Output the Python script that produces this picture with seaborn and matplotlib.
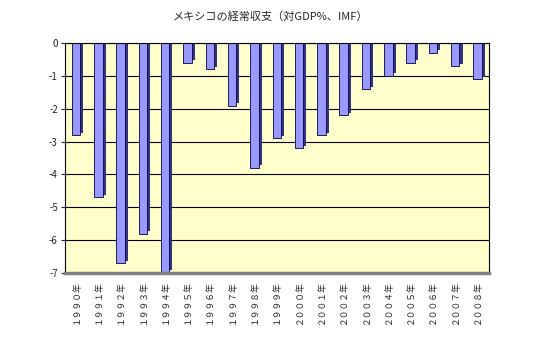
import matplotlib
matplotlib.use("Agg")
import matplotlib.pyplot as plt
import matplotlib.patheffects as pe
import seaborn as sns
import pandas as pd

years = ["１９９０年", "１９９１年", "１９９２年", "１９９３年", "１９９４年", "１９９５年",
         "１９９６年", "１９９７年", "１９９８年", "１９９９年", "２０００年", "２００１年",
         "２００２年", "２００３年", "２００４年", "２００５年", "２００６年", "２００７年", "２００８年"]
values = [-2.8, -4.7, -6.7, -5.8, -7.0, -0.6, -0.8, -1.9, -3.8, -2.9,
          -3.2, -2.8, -2.2, -1.4, -1.0, -0.6, -0.3, -0.7, -1.1]
yticks = [0, -1, -2, -3, -4, -5, -6, -7]
title = "メキシコの経常収支（対GDP%、IMF）"

sns.set_style("white")
plt.rcParams['font.family'] = ['Noto Sans CJK JP', 'DejaVu Sans']
plt.rcParams['axes.unicode_minus'] = False

df = pd.DataFrame({"year": years, "value": values})

fig = plt.figure(figsize=(5.4, 3.37), dpi=100)
ax = fig.add_axes([0.120, 0.190, 0.785, 0.682])
ax.set_facecolor("#FFFFCC")

sns.barplot(data=df, x="year", y="value", color="#9999FF", width=0.38,
            saturation=1, edgecolor="#000040", linewidth=0.6, ax=ax)
for p in ax.patches:
    p.set_path_effects([pe.SimplePatchShadow(offset=(2.2, 1.8), shadow_rgbFace="#333380", alpha=1.0),
                        pe.Normal()])

ax.set_ylim(-7, 0)
ax.set_yticks(yticks)
ax.set_yticklabels([str(v) for v in yticks], fontsize=7)
ax.yaxis.grid(True, color="black", linewidth=0.8)
ax.set_axisbelow(True)
ax.set_xlim(-0.5, len(years) - 0.5)
ax.set_xlabel("")
ax.set_ylabel("")
ax.tick_params(axis="x", labelrotation=90, labelsize=6.3, length=3, pad=2)
ax.tick_params(axis="y", length=3, pad=2, left=True)
for s in ax.spines.values():
    s.set_color("black")
    s.set_linewidth(0.8)
ax.spines["bottom"].set_color("#808080")
ax.spines["bottom"].set_linewidth(2.5)

fig.suptitle(title, x=0.5, y=0.965, fontsize=8)
fig.savefig("out.png", dpi=100, facecolor="white")
